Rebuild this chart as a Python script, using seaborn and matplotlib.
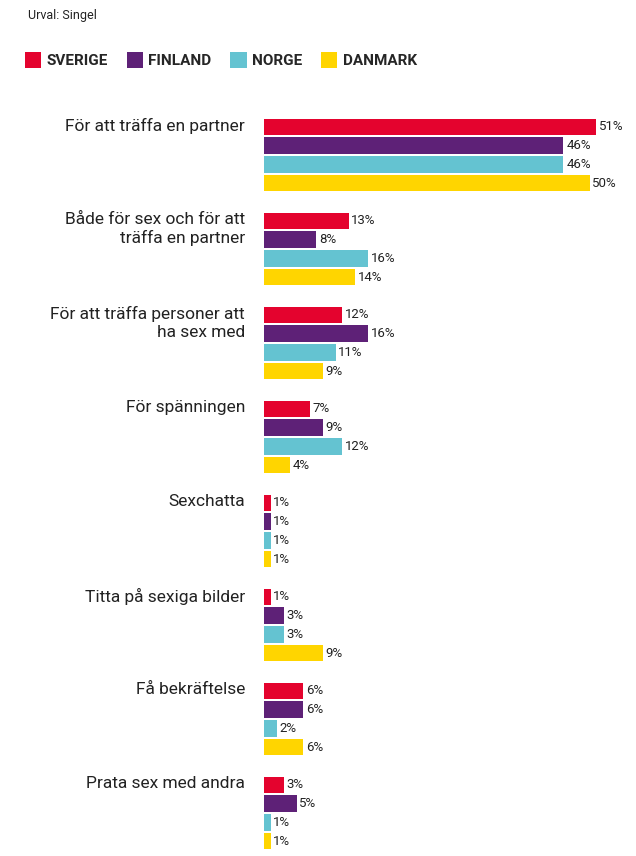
import seaborn as sns
import matplotlib.pyplot as plt
import pandas as pd
from matplotlib.patches import Patch

categories = [
    "För att träffa en partner",
    "Både för sex och för att\nträffa en partner",
    "För att träffa personer att\nha sex med",
    "För spänningen",
    "Sexchatta",
    "Titta på sexiga bilder",
    "Få bekräftelse",
    "Prata sex med andra",
]
countries = ["SVERIGE", "FINLAND", "NORGE", "DANMARK"]
sverige = [51, 13, 12, 7, 1, 1, 6, 3]
finland = [46, 8, 16, 9, 1, 3, 6, 5]
norge = [46, 16, 11, 12, 1, 3, 2, 1]
danmark = [50, 14, 9, 4, 1, 9, 6, 1]
colors = ["#E4032E", "#5E2177", "#64C3D1", "#FFD500"]

rows = []
for country, vals in zip(countries, [sverige, finland, norge, danmark]):
    for cat, v in zip(categories, vals):
        rows.append({"cat": cat, "country": country, "value": v})
df = pd.DataFrame(rows)

sns.set_style("white")
plt.rcParams["font.family"] = ["Roboto", "DejaVu Sans"]

fig = plt.figure(figsize=(6.36, 8.56), dpi=100)
W, H = 636, 856
x0 = 264
ppu = 6.51
xmax = 56
ax = fig.add_axes([x0 / W, 1 - 860 / H, xmax * ppu / W, 752 / H])

sns.barplot(data=df, y="cat", x="value", hue="country", order=categories,
            hue_order=countries, palette=colors, orient="h", width=0.8,
            gap=0.12, ax=ax, legend=False, saturation=1, linewidth=0)
ax.set_xlim(0, xmax)
ax.set_ylim(7.5, -0.5)
ax.set_xlabel("")
ax.set_ylabel("")
ax.set_xticks([])
ax.set_yticks([])
for s in ax.spines.values():
    s.set_visible(False)

for cont in ax.containers:
    ax.bar_label(cont, fmt="{:.0f}%", padding=2, fontsize=9.5, color="#222222")

trans = ax.get_yaxis_transform()
for i, cat in enumerate(categories):
    ax.text(-19 / (xmax * ppu), i - 0.39, cat, transform=trans, ha="right",
            va="top", fontsize=12.5, color="#222222", linespacing=1.2)

fig.text(28 / W, 1 - 15 / H, "Urval: Singel", fontsize=9, va="center",
         color="#222222")

handles = [Patch(facecolor=c, edgecolor="none") for c in colors]
fig.legend(handles, countries, loc="center left",
           bbox_to_anchor=(25 / W, 1 - 60 / H), ncol=4, frameon=False,
           borderpad=0, borderaxespad=0,
           handlelength=1.05, handleheight=1.25, handletextpad=0.35,
           columnspacing=1.25, prop={"weight": "bold", "size": 11})

fig.savefig("out.png", dpi=100)
